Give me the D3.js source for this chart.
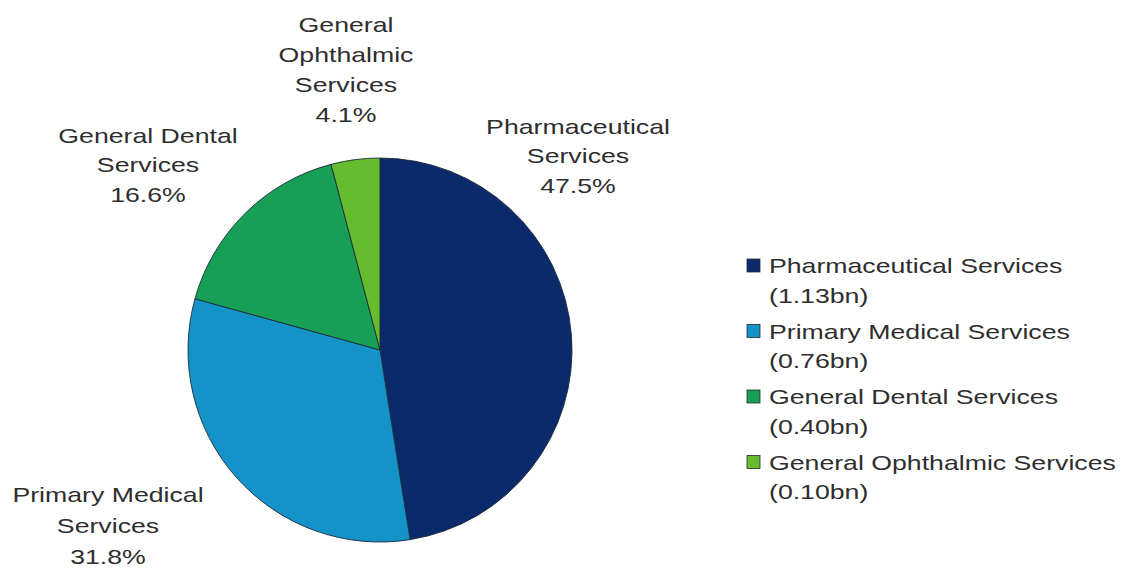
<!DOCTYPE html>
<html>
<head>
<meta charset="utf-8">
<script src="https://cdn.jsdelivr.net/npm/d3@7/dist/d3.min.js"></script>
<style>
  html, body { margin: 0; padding: 0; background: #fff; }
  svg { display: block; }
  text { font-family: "Liberation Sans", Arial, sans-serif; fill: #2e2e2e; }
</style>
</head>
<body>
<svg id="chart" width="1123" height="570"></svg>
<script>
// Family health services spend, by service
const categories = ["Pharmaceutical Services", "Primary Medical Services", "General Dental Services", "General Ophthalmic Services"];
const shares = [47.5, 31.8, 16.6, 4.1];           // percent of total
const spendLabels = ["(1.13bn)", "(0.76bn)", "(0.40bn)", "(0.10bn)"];
const sliceLabelLines = [
  ["Pharmaceutical", "Services"],
  ["Primary Medical", "Services"],
  ["General Dental", "Services"],
  ["General", "Ophthalmic", "Services"]
];
const colors = ["#0b2a6b", "#1393c8", "#17a055", "#66bc2e"];

const svg = d3.select("#chart");
const cx = 380, cy = 350, radius = 192;
const fontSize = 21, stretch = 1.27;

const color = d3.scaleOrdinal().domain(categories).range(colors);

const pie = d3.pie().sort(null).value(d => d.share);
const data = categories.map((c, i) => ({ name: c, share: shares[i], i }));
const arcs = pie(data);

const arc = d3.arc().innerRadius(0).outerRadius(radius);

const g = svg.append("g").attr("transform", `translate(${cx},${cy})`);
g.selectAll("path.slice")
  .data(arcs)
  .join("path")
  .attr("class", "slice")
  .attr("d", arc)
  .attr("fill", d => color(d.data.name))
  .attr("stroke", "#1c2b3a")
  .attr("stroke-width", 0.9);

// Slice labels placed outside the pie, centred on each anchor
const labelAnchors = [
  { x: 578, y: 134, lh: 29.5 },
  { x: 108, y: 502, lh: 31 },
  { x: 148, y: 143, lh: 29.5 },
  { x: 346, y: 32, lh: 30 }
];
const fmt = d3.format(".1f");
arcs.forEach((a, i) => {
  const lines = sliceLabelLines[i].concat([fmt(a.data.share) + "%"]);
  const t = svg.append("g")
    .attr("transform", `translate(${labelAnchors[i].x},${labelAnchors[i].y}) scale(${stretch},1)`)
    .append("text")
    .attr("text-anchor", "middle")
    .attr("font-size", fontSize);
  lines.forEach((ln, k) => {
    t.append("tspan").attr("x", 0).attr("y", k * labelAnchors[i].lh).text(ln);
  });
});

// Legend
const legendX = 747, legendY = 273, entryH = 65.5;
const legend = svg.append("g").attr("transform", `translate(${legendX},${legendY})`);
categories.forEach((c, i) => {
  const row = legend.append("g").attr("transform", `translate(0,${i * entryH})`);
  row.append("rect")
    .attr("x", 0).attr("y", -14)
    .attr("width", 13).attr("height", 13)
    .attr("fill", color(c))
    .attr("stroke", "#2a2a2a")
    .attr("stroke-width", 0.8);
  const t = row.append("g")
    .attr("transform", `translate(22,0) scale(${stretch},1)`)
    .append("text")
    .attr("font-size", fontSize);
  t.append("tspan").attr("x", 0).attr("y", 0).text(c);
  t.append("tspan").attr("x", 0).attr("y", 30).text(spendLabels[i]);
});
</script>
</body>
</html>
